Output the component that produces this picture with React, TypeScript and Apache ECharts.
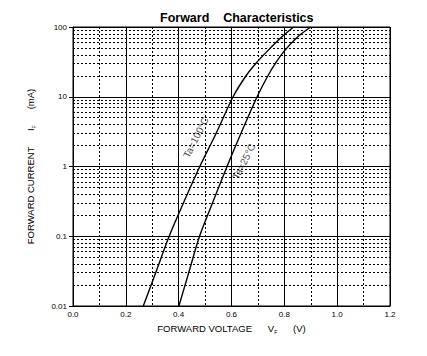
import React, { useEffect, useRef } from "react";
import * as echarts from "echarts";

const titleText = "Forward    Characteristics";
const xTickLabels = ["0.0", "0.2", "0.4", "0.6", "0.8", "1.0", "1.2"];
const yTickLabels = ["0.01", "0.1", "1", "10", "100"];

// Ta = 100°C
const voltage100 = [0.266, 0.313, 0.364, 0.418, 0.48, 0.542, 0.606, 0.655, 0.692, 0.733, 0.792, 0.835];
const current100 = [0.01, 0.03, 0.1, 0.3, 1, 3, 10, 20, 30, 44, 73, 100];

// Ta = 25°C
const voltage25 = [0.401, 0.438, 0.479, 0.528, 0.583, 0.636, 0.697, 0.738, 0.766, 0.797, 0.852, 0.9];
const current25 = [0.01, 0.03, 0.1, 0.3, 1, 3, 10, 20, 30, 44, 73, 100];

const minorMultipliers = [2, 3, 4, 5, 6, 7, 8, 9];
const decades = [0.01, 0.1, 1, 10];

const labels = [
  { text: "Ta=100°C", v: 0.465, i: 2.6, rotate: 63 },
  { text: "Ta=25°C", v: 0.647, i: 1.18, rotate: 63 },
];

export default function App() {
  const ref = useRef<HTMLDivElement>(null);
  useEffect(() => {
    if (!ref.current) return;
    const chart = echarts.init(ref.current, null, { renderer: "svg" });
    const minorY: { yAxis: number }[] = [];
    decades.forEach((d) => minorMultipliers.forEach((m) => minorY.push({ yAxis: +(d * m).toPrecision(3) })));
    const dotted = { type: [2, 2] as any, color: "#000", width: 1 };
    const font = "Liberation Sans, Arial, sans-serif";
    const subStyle = { fontSize: 5, color: "#000", fontFamily: font, padding: [6, 0, 0, 0] };
    chart.setOption({
      animation: false,
      backgroundColor: "#fff",
      title: {
        text: titleText,
        left: 155,
        top: 6,
        textStyle: { fontSize: 12.5, fontWeight: "bold", color: "#000", fontFamily: font },
      },
      grid: { left: 73, right: 37, top: 27, bottom: 50, show: true, borderColor: "#000", borderWidth: 1 },
      xAxis: {
        type: "value",
        min: 0,
        max: 1.2,
        interval: 0.2,
        axisLine: { show: true, onZero: false, lineStyle: { color: "#000", width: 1 } },
        axisTick: { show: false },
        axisLabel: {
          color: "#000",
          fontSize: 8,
          fontFamily: font,
          margin: 4,
          formatter: (v: number) => xTickLabels[Math.round(v / 0.2)] ?? "",
        },
        splitLine: { show: true, lineStyle: { color: "#000", width: 1 } },
        minorTick: { show: false, splitNumber: 2 },
        minorSplitLine: { show: true, lineStyle: dotted },
        name: "FORWARD VOLTAGE      V{sub|F}      (V)",
        nameLocation: "middle",
        nameGap: 17,
        nameTextStyle: {
          color: "#000",
          fontSize: 9.5,
          fontFamily: font,
          rich: { sub: subStyle },
        },
      },
      yAxis: {
        type: "log",
        logBase: 10,
        min: 0.01,
        max: 100,
        axisLine: { show: true, lineStyle: { color: "#000", width: 1 } },
        axisTick: { show: true, length: 4, lineStyle: { color: "#000" } },
        axisLabel: {
          color: "#000",
          fontSize: 8,
          fontFamily: font,
          margin: 6,
          formatter: (v: number) => yTickLabels[Math.round(Math.log10(v)) + 2] ?? "",
        },
        splitLine: { show: true, lineStyle: { color: "#000", width: 1 } },
        minorSplitLine: { show: false },
        name: "FORWARD CURRENT      I{sub|F}      (mA)",
        nameLocation: "middle",
        nameRotate: 90,
        nameGap: 37,
        nameTextStyle: {
          color: "#000",
          fontSize: 9.5,
          fontFamily: font,
          rich: { sub: subStyle },
        },
      },
      series: [
        {
          type: "line",
          data: voltage100.map((v, k) => [v, current100[k]]),
          smooth: 0.3,
          showSymbol: false,
          lineStyle: { color: "#000", width: 1.4 },
          markLine: {
            silent: true,
            symbol: "none",
            label: { show: false },
            lineStyle: dotted,
            data: minorY,
          },
          z: 5,
        },
        {
          type: "line",
          data: voltage25.map((v, k) => [v, current25[k]]),
          smooth: 0.3,
          showSymbol: false,
          lineStyle: { color: "#000", width: 1.4 },
          z: 5,
        },
        {
          type: "scatter",
          symbolSize: 0,
          data: labels.map((l) => ({
            value: [l.v, l.i],
            label: {
              show: true,
              position: "inside",
              formatter: l.text,
              rotate: l.rotate,
              color: "#111",
              fontSize: 10,
              fontFamily: font,
            },
          })),
          z: 6,
        },
      ],
    });
    return () => chart.dispose();
  }, []);
  return <div ref={ref} style={{ width: 427, height: 356, margin: -8 }} />;
}
